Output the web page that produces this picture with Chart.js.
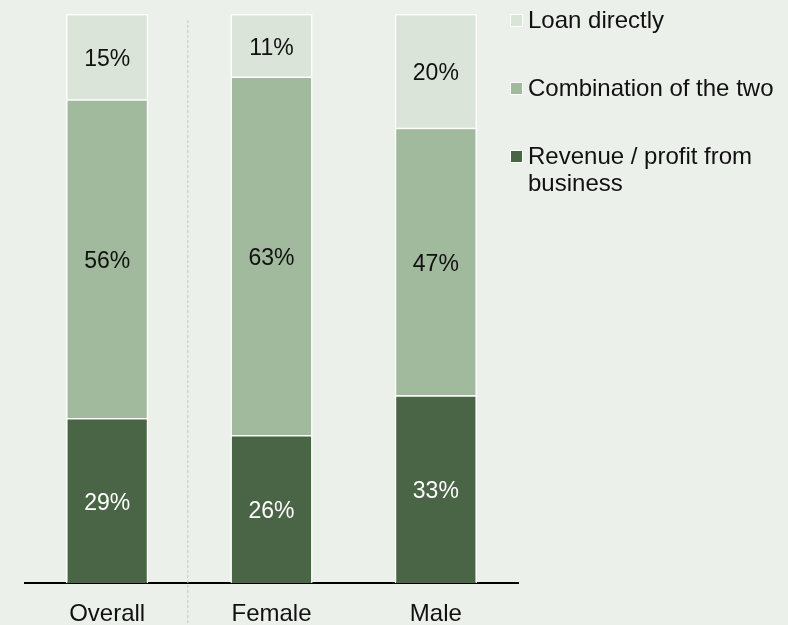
<!DOCTYPE html>
<html>
<head>
<meta charset="utf-8">
<script src="https://cdn.jsdelivr.net/npm/chart.js@4"></script>
<style>
  html, body { margin: 0; padding: 0; background: #ecf0eb; }
  #wrap { position: relative; width: 788px; height: 625px; overflow: hidden; }
  #legend { position: absolute; left: 509px; top: 6px; margin: 0; padding: 0; list-style: none;
            font-family: "Liberation Sans", Arial, sans-serif; font-size: 24px; line-height: 27px; color: #111; }
  #legend li { position: relative; padding-left: 19px; width: 262px; margin-bottom: 41px; }
  #legend .box { position: absolute; left: 1px; top: 8px; width: 13px; height: 13px; box-sizing: border-box; border: 1px solid #fff; }
</style>
</head>
<body>
<div id="wrap">
  <canvas id="fundingChart" width="788" height="625"></canvas>
  <ul id="legend"></ul>
</div>
<script>
// Groups along the x-axis
const groups = ['Overall', 'Female', 'Male'];

// Share of respondents by funding source (%), stacked bottom to top
const revenueShare = [29, 26, 33];
const combinedShare = [56, 63, 47];
const loanShare = [15, 11, 20];

const seriesNames = ['Revenue / profit from business', 'Combination of the two', 'Loan directly'];
const seriesColors = ['#4a6546', '#a1b99c', '#dbe4d9'];
const labelColors = ['#ffffff', '#111111', '#111111'];

const FONT = '"Liberation Sans", Arial, sans-serif';

// Writes the percentage in the middle of each stacked segment
const segmentLabels = {
    id: 'segmentLabels',
    afterDatasetsDraw(chart) {
        const ctx = chart.ctx;
        ctx.save();
        ctx.font = '23px ' + FONT;
        ctx.textAlign = 'center';
        ctx.textBaseline = 'middle';
        chart.data.datasets.forEach((ds, i) => {
            const meta = chart.getDatasetMeta(i);
            meta.data.forEach((bar, j) => {
                ctx.fillStyle = labelColors[i];
                ctx.fillText(ds.data[j] + '%', bar.x, (bar.y + bar.base) / 2 + 3);
            });
        });
        ctx.restore();
    },
};

// Dashed divider between "Overall" and the gender breakdown
const divider = {
    id: 'divider',
    beforeDatasetsDraw(chart) {
        const x = chart.scales.x;
        const px = (x.getPixelForValue(0) + x.getPixelForValue(1)) / 2 - 2;
        const ctx = chart.ctx;
        ctx.save();
        ctx.strokeStyle = '#c5c9c4';
        ctx.lineWidth = 1;
        ctx.setLineDash([3, 2]);
        ctx.beginPath();
        ctx.moveTo(px + 0.5, 20);
        ctx.lineTo(px + 0.5, chart.height);
        ctx.stroke();
        ctx.restore();
    },
};

function createFundingChart() {
    const ctx = document.getElementById('fundingChart').getContext('2d');
    const values = [revenueShare, combinedShare, loanShare];
    const chart = new Chart(ctx, {
        type: 'bar',
        data: {
            labels: groups,
            datasets: values.map((data, i) => ({
                label: seriesNames[i],
                data: data,
                backgroundColor: seriesColors[i],
                borderColor: '#ffffff',
                borderWidth: 1.5,
                barPercentage: 0.5,
                categoryPercentage: 1,
            })),
        },
        options: {
            responsive: false,
            animation: false,
            layout: { padding: { left: 25, right: 270, top: 14, bottom: 0 } },
            plugins: {
                legend: { display: false },
                tooltip: { enabled: false },
            },
            scales: {
                x: {
                    stacked: true,
                    grid: { display: false },
                    border: { display: true, color: '#000000', width: 2 },
                    ticks: { color: '#111111', font: { family: FONT, size: 24 }, padding: 9 },
                    afterFit(scale) {
                        scale.height = 42;
                    },
                },
                y: {
                    stacked: true,
                    display: false,
                    min: 0,
                    max: 100,
                },
            },
        },
        plugins: [divider, segmentLabels],
    });

    // Legend on the right, top series first
    const legend = document.getElementById('legend');
    chart.data.datasets.slice().reverse().forEach(ds => {
        const li = document.createElement('li');
        li.innerHTML = '<span class="box" style="background:' + ds.backgroundColor + '"></span>' + ds.label;
        legend.appendChild(li);
    });
}

document.addEventListener('DOMContentLoaded', createFundingChart);
</script>
</body>
</html>
